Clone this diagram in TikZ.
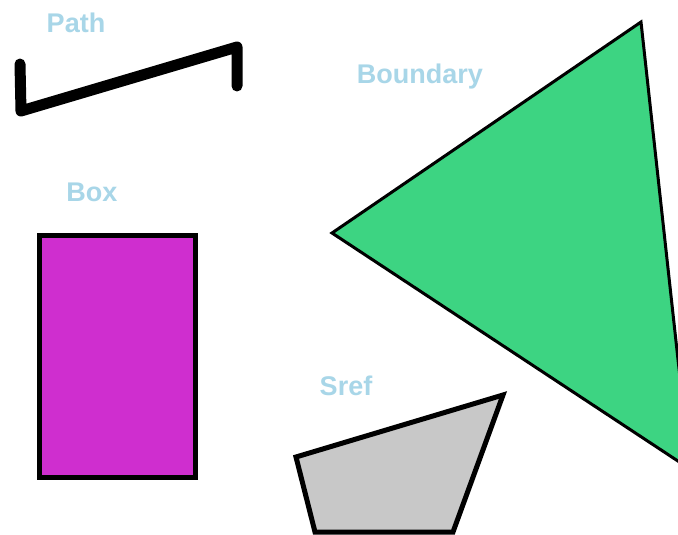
\documentclass[tikz,border=0pt]{standalone}
\usepackage{fontspec}
\setmainfont{Liberation Sans}
\definecolor{lbl}{HTML}{A8D6E8}
\definecolor{tri}{HTML}{3DD482}
\definecolor{boxc}{HTML}{CF2ECF}
\definecolor{srefc}{HTML}{C8C8C8}
\tikzset{
  lab/.style={text=lbl,font=\fontsize{27}{30}\selectfont\bfseries,inner sep=0pt},
}
\begin{document}
\begin{tikzpicture}[x=1pt,y=-1pt]
\useasboundingbox (0,0) rectangle (678,535);
\begin{scope}
\clip (0,0) rectangle (678,535);
\fill[white] (0,0) rectangle (678,535);
% path
\draw[line width=11pt,line cap=round,line join=round] (20,64) -- (21,111) -- (237,47) -- (237,86);
% triangle boundary
\draw[fill=tri,line width=3pt,line join=miter] (641,22) -- (332,233) -- (690,469) -- cycle;
% box
\draw[fill=boxc,line width=5pt] (39,235) rectangle (195,477);
% sref
\draw[fill=srefc,line width=5pt,line join=miter] (296,457) -- (503,395) -- (453,532) -- (315,532) -- cycle;
\end{scope}
\node[lab] (p) at (76,23) {Path};
\node[lab] (b) at (420,77) {Boundary};
\node[lab] (x) at (92,192) {Box};
\node[lab] (s) at (346,386) {Sref};
\end{tikzpicture}
\end{document}
